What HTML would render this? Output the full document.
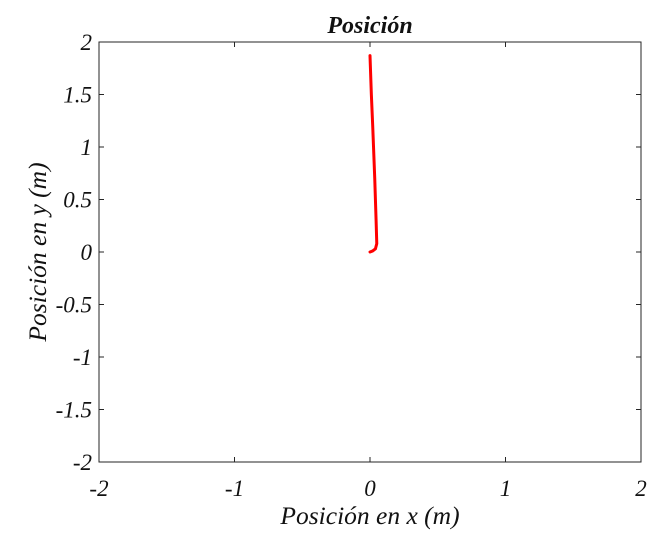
<!DOCTYPE html>
<html><head><meta charset="utf-8"><style>
body{margin:0;background:#fff;width:668px;height:552px;overflow:hidden}
svg text{font-family:"Liberation Serif",serif;font-style:italic;fill:#111}
</style></head><body>
<svg id="chart" width="668" height="552" xmlns="http://www.w3.org/2000/svg">
<text x="370" y="33" font-size="24" font-weight="bold" text-anchor="middle">Posición</text>
<text x="370" y="524" font-size="25.5" text-anchor="middle">Posición en x (m)</text>
<text transform="translate(46,252) rotate(-90)" font-size="25.5" text-anchor="middle">Posición en y (m)</text>
<g id="axes"></g>
<path id="series" fill="none" stroke="#ff0000" stroke-width="3" stroke-linejoin="round" stroke-linecap="round"/>
</svg>
<script>
const xTicks=[-2,-1,0,1,2];
const yTicks=[2,1.5,1,0.5,0,-0.5,-1,-1.5,-2];
const xs=[0,0.02,0.04,0.05,0.045,0.035,0.02,0.01,0];
const ys=[0,0.01,0.03,0.08,0.3,0.7,1.2,1.5,1.87];
const L=99,R=641,T=42,B=462;
const sx=v=>L+(v+2)/4*(R-L);
const sy=v=>B-(v+2)/4*(B-T);
const ns="http://www.w3.org/2000/svg";
const g=document.getElementById('axes');
function mk(tag,attrs){const e=document.createElementNS(ns,tag);for(const k in attrs)e.setAttribute(k,attrs[k]);g.appendChild(e);return e;}
const box=mk('rect',{x:L,y:T,width:R-L,height:B-T,fill:'none',stroke:'#262626','stroke-width':1});


xTicks.forEach(v=>{const x=sx(v);
 const t1=mk('line',{x1:x,x2:x,y1:B,y2:B-5,stroke:'#262626'});
 
 
 const t2=mk('line',{x1:x,x2:x,y1:T,y2:T+5,stroke:'#262626'});
 
 
 const tx=mk('text',{x:x,y:B+34,'font-size':23,'text-anchor':'middle'});tx.textContent=v;
 
 
});
yTicks.forEach(v=>{const y=sy(v);
 const t1=mk('line',{x1:L,x2:L+5,y1:y,y2:y,stroke:'#262626'});
 
 
 const t2=mk('line',{x1:R,x2:R-5,y1:y,y2:y,stroke:'#262626'});
 
 
 const tx=mk('text',{x:L-7,y:y+8,'font-size':23,'text-anchor':'end'});tx.textContent=v;
 
 
});
document.getElementById('series').setAttribute('d',xs.map((v,i)=>(i?'L':'M')+sx(v)+','+sy(ys[i])).join(' '));
</script>
</body></html>
